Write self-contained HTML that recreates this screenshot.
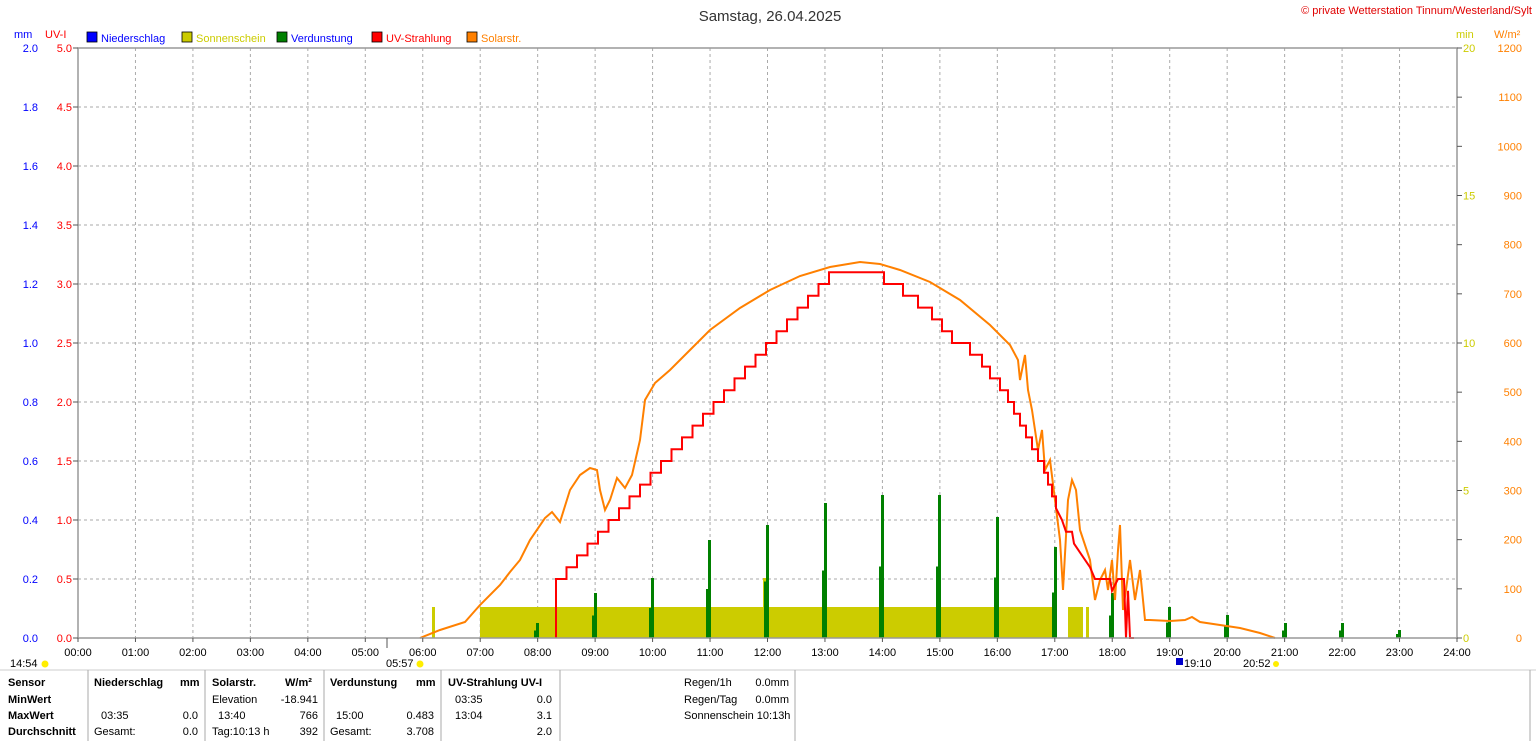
<!DOCTYPE html>
<html><head><meta charset="utf-8"><style>
body{margin:0;background:#fff;width:1536px;height:741px;overflow:hidden;font-family:"Liberation Sans",sans-serif;}
svg text{font-family:"Liberation Sans",sans-serif;font-size:11px;}
</style></head><body>
<svg id="s" width="1536" height="741" xmlns="http://www.w3.org/2000/svg">
<rect width="1536" height="741" fill="#fff"/>
<text x="770" y="21" font-size="15" text-anchor="middle" style="font-size:15px" fill="#333">Samstag, 26.04.2025</text>
<text x="1532" y="14" text-anchor="end" fill="#e00000">© private Wetterstation Tinnum/Westerland/Sylt</text>
<text x="14" y="38" fill="#0000ff">mm</text>
<text x="45" y="38" fill="#ff0000">UV-I</text>
<rect x="87" y="32" width="10" height="10" fill="#0000ff" stroke="#000" stroke-width="0.8"/><text x="101" y="42" fill="#0000ff">Niederschlag</text>
<rect x="182" y="32" width="10" height="10" fill="#cccc00" stroke="#000" stroke-width="0.8"/><text x="196" y="42" fill="#cccc00">Sonnenschein</text>
<rect x="277" y="32" width="10" height="10" fill="#008000" stroke="#000" stroke-width="0.8"/><text x="291" y="42" fill="#0000ff">Verdunstung</text>
<rect x="372" y="32" width="10" height="10" fill="#ff0000" stroke="#000" stroke-width="0.8"/><text x="386" y="42" fill="#ff0000">UV-Strahlung</text>
<rect x="467" y="32" width="10" height="10" fill="#ff8000" stroke="#000" stroke-width="0.8"/><text x="481" y="42" fill="#ff8000">Solarstr.</text>
<text x="1456" y="38" fill="#cccc00">min</text>
<text x="1494" y="38" fill="#ff8000">W/m²</text>
<g id="grid"></g>
<g id="data"></g>
<rect x="78" y="48" width="1379" height="590" fill="none" stroke="#999" stroke-width="1.5"/>
<g id="lbl"></g>
<g id="tbl" font-size="11">
<line x1="0" y1="670" x2="1536" y2="670" stroke="#ccc"/>
<g stroke="#aaa"><line x1="88" y1="670" x2="88" y2="741"/><line x1="205" y1="670" x2="205" y2="741"/><line x1="324" y1="670" x2="324" y2="741"/><line x1="441" y1="670" x2="441" y2="741"/><line x1="560" y1="670" x2="560" y2="741"/><line x1="795" y1="670" x2="795" y2="741"/><line x1="1530" y1="670" x2="1530" y2="741"/></g>
<g font-weight="bold"><text x="8" y="686">Sensor</text><text x="8" y="703">MinWert</text><text x="8" y="719">MaxWert</text><text x="8" y="735">Durchschnitt</text>
<text x="94" y="686">Niederschlag</text><text x="180" y="686">mm</text><text x="212" y="686">Solarstr.</text><text x="285" y="686">W/m²</text><text x="330" y="686">Verdunstung</text><text x="416" y="686">mm</text><text x="448" y="686">UV-Strahlung UV-I</text></g>
<text x="212" y="703">Elevation</text><text x="318" y="703" text-anchor="end">-18.941</text><text x="455" y="703">03:35</text><text x="552" y="703" text-anchor="end">0.0</text>
<text x="101" y="719">03:35</text><text x="198" y="719" text-anchor="end">0.0</text><text x="218" y="719">13:40</text><text x="318" y="719" text-anchor="end">766</text><text x="336" y="719">15:00</text><text x="434" y="719" text-anchor="end">0.483</text><text x="455" y="719">13:04</text><text x="552" y="719" text-anchor="end">3.1</text>
<text x="94" y="735">Gesamt:</text><text x="198" y="735" text-anchor="end">0.0</text><text x="212" y="735">Tag:10:13 h</text><text x="318" y="735" text-anchor="end">392</text><text x="330" y="735">Gesamt:</text><text x="434" y="735" text-anchor="end">3.708</text><text x="552" y="735" text-anchor="end">2.0</text>
<text x="684" y="686">Regen/1h</text><text x="789" y="686" text-anchor="end">0.0mm</text><text x="684" y="703">Regen/Tag</text><text x="789" y="703" text-anchor="end">0.0mm</text><text x="684" y="719">Sonnenschein 10:13h</text>
</g>
<text x="10" y="667">14:54</text><circle cx="45" cy="664" r="3.5" fill="#ffee00"/>
<text x="386" y="667">05:57</text><circle cx="420" cy="664" r="3.5" fill="#ffee00"/>
<line x1="387" y1="638" x2="387" y2="648" stroke="#555"/>
<rect x="1176" y="658" width="7" height="7" fill="#0000cc"/><text x="1184" y="667">19:10</text>
<text x="1243" y="667">20:52</text><circle cx="1276" cy="664" r="3" fill="#ffee00"/>
</svg>
<script>
const NS="http://www.w3.org/2000/svg";
function el(p,t,a,txt){const e=document.createElementNS(NS,t);for(const k in a)e.setAttribute(k,a[k]);if(txt!==undefined)e.textContent=txt;document.getElementById(p).appendChild(e);return e;}
const X0=78,X1=1457,Y0=48,Y1=638,hx=(X1-X0)/24;
for(let h=0;h<=24;h++){const x=X0+h*hx;
 if(h>0&&h<24)el("grid","line",{x1:x,y1:Y0,x2:x,y2:Y1,stroke:"#aaa","stroke-dasharray":"3,3"});
 el("lbl","line",{x1:x,y1:Y1,x2:x,y2:Y1+4,stroke:"#555"});
 el("lbl","text",{x:x,y:656,"text-anchor":"middle"},(h<10?"0":"")+h+":00");}
for(let i=0;i<=10;i++){const y=Y1-i*59;
 if(i>0&&i<10)el("grid","line",{x1:X0,y1:y,x2:X1,y2:y,stroke:"#aaa","stroke-dasharray":"3,3"});
 el("lbl","text",{x:72,y:y+4,"text-anchor":"end",fill:"#ff0000"},(i*0.5).toFixed(1));
 el("lbl","text",{x:38,y:y+4,"text-anchor":"end",fill:"#0000ff"},(i*0.2).toFixed(1));
 el("lbl","line",{x1:73,y1:y,x2:78,y2:y,stroke:"#555"});}
for(let v=0;v<=1200;v+=100){const y=Y1-v*590/1200;el("lbl","text",{x:1522,y:y+4,"text-anchor":"end",fill:"#ff8000"},v);el("lbl","line",{x1:1457,y1:y,x2:1462,y2:y,stroke:"#555"});}
for(let m=0;m<=20;m+=5){const y=Y1-m*29.5;el("lbl","text",{x:1463,y:y+4,fill:"#cccc00"},m);}
const sy=[[432,607,3,31],[480,607,573,31],[763,578,3,60],[1068,607,15,31],[1086,607,3,31]];
sy.forEach(b=>el("data","rect",{x:b[0],y:b[1],width:b[2],height:b[3],fill:"#cccc00"}));
const ev=[[537,623],[595,593],[652,578],[709,540],[767,525],[825,503],[882,495],[939,495],[997,517],[1055,547],[1112,593],[1169,607],[1227,615],[1285,623],[1342,623],[1399,630]];
ev.forEach(b=>{el("data","rect",{x:b[0]-1,y:b[1],width:3,height:638-b[1],fill:"#008000"});el("data","rect",{x:b[0]-3,y:638-(638-b[1])*0.5,width:2,height:(638-b[1])*0.5,fill:"#008000"});});
const so=[[420,638],[440,630],[465,622],[480,605],[500,585],[510,572],[520,560],[530,540],[545,518],[552,512],[560,522],[570,490],[580,475],[590,468],[597,470],[600,490],[605,510],[610,500],[617,478],[625,488],[632,475],[640,440],[645,400],[655,383],[670,370],[690,350],[710,330],[740,308],[770,290],[800,276],[830,267],[860,262],[880,264],[900,270],[930,282],[960,300],[990,325],[1010,345],[1018,360],[1020,380],[1025,355],[1028,390],[1032,410],[1038,450],[1042,430],[1045,470],[1050,460],[1055,500],[1060,540],[1063,590],[1068,500],[1072,480],[1076,490],[1080,530],[1085,545],[1090,560],[1095,600],[1100,580],[1105,570],[1108,590],[1112,560],[1115,600],[1118,550],[1120,525],[1123,610],[1126,590],[1130,560],[1135,600],[1140,570],[1145,620],[1150,620],[1170,621],[1185,620],[1192,617],[1200,622],[1220,625],[1240,628],[1260,633],[1275,638]];
el("data","polyline",{points:so.map(p=>p.join(",")).join(" "),fill:"none",stroke:"#ff8000","stroke-width":2});
let d="M556,638 L556,579",x=556,u=0.5;const uy=v=>638-v*118;
while(u<3.1-1e-6){x+=10.5;d+=` L${x},${uy(u)}`;u+=0.1;d+=` L${x},${uy(u)}`;}
d+=` L884,${uy(3.1)}`;x=884;
const dn=[903,918,932,942,952,970,982,990,1000,1008,1014,1020,1026,1032,1038,1044,1048,1052,1056,1060];
dn.forEach(nx=>{d+=` L${x},${uy(u)}`;u-=0.1;d+=` L${x},${uy(u)}`;x=nx;});
d+=` L1062,${uy(1.0)} L1066,${uy(0.9)} L1072,${uy(0.9)} L1074,${uy(0.8)} L1082,${uy(0.7)} L1090,${uy(0.6)} L1095,${uy(0.5)} L1110,${uy(0.5)} L1112,${uy(0.4)} L1118,${uy(0.5)} L1124,${uy(0.5)} L1126,638 L1128,${uy(0.4)} L1130,638 L1134,638`;
el("data","path",{d:d,fill:"none",stroke:"#ff0000","stroke-width":2});
</script>
</body></html>
